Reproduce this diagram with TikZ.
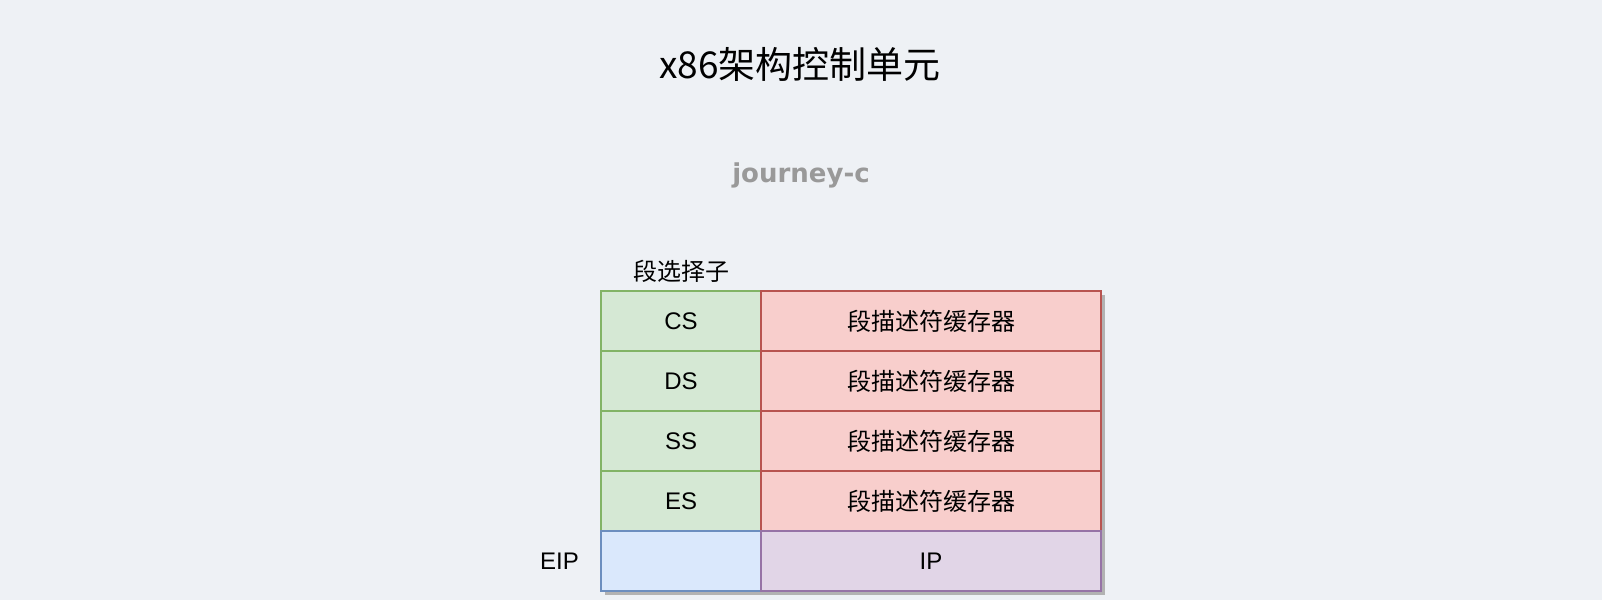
\documentclass[tikz,border=0pt]{standalone}
\usepackage{fontspec}
\setmainfont{Liberation Sans}
\newfontfamily\cjk{Noto Sans CJK SC}
\newfontfamily\markfont{DejaVu Sans}
\usetikzlibrary{positioning,shadows}
\definecolor{bgcol}{HTML}{EEF1F5}
\definecolor{greenfill}{HTML}{D5E8D4}
\definecolor{greenline}{HTML}{82B366}
\definecolor{redfill}{HTML}{F8CECC}
\definecolor{redline}{HTML}{B85450}
\definecolor{bluefill}{HTML}{DAE8FC}
\definecolor{blueline}{HTML}{6C8EBF}
\definecolor{purplefill}{HTML}{E1D5E7}
\definecolor{purpleline}{HTML}{9673A6}
\tikzset{
  regnode/.style = {rectangle, align=center, inner sep=0pt, outer sep=0pt,
    line width=1.2pt, minimum height=60pt,
    font=\fontsize{24}{28}\selectfont,
    drop shadow={shadow xshift=4pt, shadow yshift=-4pt, fill=black!30, opacity=1}},
  reg_g/.style = {regnode, draw=greenline, fill=greenfill, minimum width=160pt},% selecteur
  reg_r/.style = {regnode, draw=redline, fill=redfill, minimum width=340pt},% descripteur
  reg_b/.style = {regnode, draw=blueline, fill=bluefill, minimum width=160pt},% eip
  reg_p/.style = {regnode, draw=purpleline, fill=purplefill, minimum width=340pt},% ip
  lbl/.style = {inner sep=0pt, font=\fontsize{24}{28}\selectfont}
}
\begin{document}
\begin{tikzpicture}[node distance=0pt]
\useasboundingbox[fill=bgcol] (0pt,0pt) rectangle (1602pt,-600pt);
\node (title) at (800pt,-64pt) {\cjk\fontsize{37}{40}\selectfont x86架构控制单元};
\node (mark) at (801pt,-175pt) {\markfont\bfseries\fontsize{26}{30}\selectfont\color{black!40}journey-c};

\node [reg_g, anchor=north west] (cs) at (601pt,-291pt) {CS};
\node [reg_r, right=of cs] (csd) {\cjk 段描述符缓存器};
\node [reg_g, below=of cs] (ds) {DS};
\node [reg_r, right=of ds] (dsd) {\cjk 段描述符缓存器};
\node [reg_g, below=of ds] (ss) {SS};
\node [reg_r, right=of ss] (ssd) {\cjk 段描述符缓存器};
\node [reg_g, below=of ss] (es) {ES};
\node [reg_r, right=of es] (esd) {\cjk 段描述符缓存器};
\node [reg_b, below=of es] (eip) {};
\node [reg_p, right=of eip] (ip) {IP};

\node [lbl, above=8pt of cs] (selname) {\cjk 段选择子};
\node [lbl, left=22pt of eip] (eipname) {EIP};
\end{tikzpicture}
\end{document}
